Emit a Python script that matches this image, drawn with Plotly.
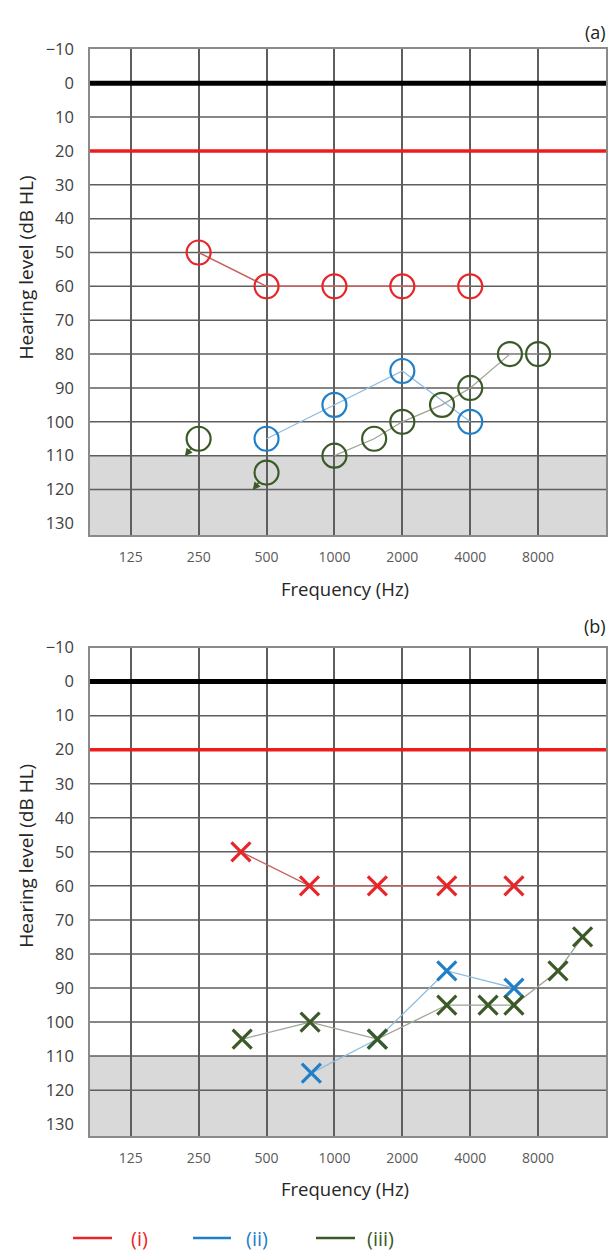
import numpy as np
import plotly.graph_objects as go

# ---------------- data ----------------
FREQ_TICKS = [125, 250, 500, 1000, 2000, 4000, 8000]
DB_TICKS = list(range(-10, 131, 10))
DB_TICKTEXT = ["\u221210"] + [str(v) for v in range(0, 131, 10)]
DB_GRID = list(range(10, 121, 10))

# Panel (a) – open circles
A_I_FREQ = [250, 500, 1000, 2000, 4000]
A_I_DB = [50, 60, 60, 60, 60]
A_II_FREQ = [500, 1000, 2000, 4000]
A_II_DB = [105, 95, 85, 100]
A_III_FREQ = [1000, 1500, 2000, 3000, 4000, 6000, 8000]
A_III_DB = [110, 105, 100, 95, 90, 80, 80]
A_III_NR_FREQ = [250, 500]          # no response (with arrows)
A_III_NR_DB = [105, 115]

# Panel (b) – crosses
B_I_FREQ = [385, 775, 1550, 3150, 6250]
B_I_DB = [50, 60, 60, 60, 60]
B_II_FREQ = [790, 1550, 3150, 6250]
B_II_DB = [115, 105, 85, 90]
B_III_FREQ = [390, 780, 1550, 3150, 4800, 6250, 9800, 12600]
B_III_DB = [105, 100, 105, 95, 95, 95, 85, 75]

SERIES_NAMES = ["(i)", "(ii)", "(iii)"]

# ---------------- style ----------------
W, H = 611, 1251
L_M, R_M = 90, 5
RED = "#e8262a"
BLUE = "#1f7fc8"
GREEN = "#3b5a27"
RED_L = "#c86060"
BLUE_L = "#8cbde2"
GREEN_L = "#9ea596"
GRID = "#5e5e5e"
FONT = "Open Sans"


def py(px):
    return 1 - px / H


def pxx(px):
    return (px - L_M) / (W - L_M - R_M)


x_range = [np.log10(125) - 0.6 * np.log10(2), np.log10(16000)]
y_range = [133.5, -10]

fig = go.Figure()

# ---- panel (a) traces ----
fig.add_trace(go.Scatter(
    x=A_I_FREQ, y=A_I_DB, mode="lines+markers", xaxis="x", yaxis="y",
    line=dict(color=RED_L, width=1.5),
    marker=dict(symbol="circle-open", size=24, color=RED, line=dict(width=2.2)),
    name=SERIES_NAMES[0], showlegend=False))
fig.add_trace(go.Scatter(
    x=A_II_FREQ, y=A_II_DB, mode="lines+markers", xaxis="x", yaxis="y",
    line=dict(color=BLUE_L, width=1.3),
    marker=dict(symbol="circle-open", size=24, color=BLUE, line=dict(width=2.2)),
    name=SERIES_NAMES[1], showlegend=False))
fig.add_trace(go.Scatter(
    x=A_III_FREQ, y=A_III_DB, mode="lines+markers", xaxis="x", yaxis="y",
    line=dict(color=GREEN_L, width=1.3),
    marker=dict(symbol="circle-open", size=24, color=GREEN, line=dict(width=2.2)),
    name=SERIES_NAMES[2], showlegend=False))
fig.add_trace(go.Scatter(
    x=A_III_NR_FREQ, y=A_III_NR_DB, mode="markers", xaxis="x", yaxis="y",
    marker=dict(symbol="circle-open", size=24, color=GREEN, line=dict(width=2.2)),
    name=SERIES_NAMES[2] + " NR", showlegend=False))

# ---- panel (b) traces ----
for fx, dbs, c, cl, nm in [
    (B_I_FREQ, B_I_DB, RED, RED_L, SERIES_NAMES[0]),
    (B_II_FREQ, B_II_DB, BLUE, BLUE_L, SERIES_NAMES[1]),
    (B_III_FREQ, B_III_DB, GREEN, GREEN_L, SERIES_NAMES[2]),
]:
    fig.add_trace(go.Scatter(
        x=fx, y=dbs, mode="lines+markers", xaxis="x2", yaxis="y2",
        line=dict(color=cl, width=1.3),
        marker=dict(symbol="x-thin", size=19, color=c, line=dict(width=3.2, color=c)),
        name=nm, showlegend=False))

# ---- axes ----
xcommon = dict(
    type="log", range=x_range, tickvals=FREQ_TICKS,
    ticktext=[str(f) for f in FREQ_TICKS],
    showgrid=True, gridcolor=GRID, gridwidth=1.5,
    showline=True, mirror=True, linecolor="#8a8a8a", linewidth=1.5,
    zeroline=False, ticks="", ticklabelstandoff=8,
    tickfont=dict(family=FONT, size=14, color="#595959"),
    domain=[0, 1])
ycommon = dict(
    range=y_range, tickvals=DB_TICKS, ticktext=DB_TICKTEXT,
    showgrid=False, zeroline=False,
    showline=True, mirror=True, linecolor="#8a8a8a", linewidth=1.5,
    ticks="", ticklabelstandoff=11,
    tickfont=dict(family=FONT, size=16.5, color="#404040"))

fig.update_layout(
    xaxis=dict(xcommon, anchor="y"),
    xaxis2=dict(xcommon, anchor="y2"),
    yaxis=dict(ycommon, anchor="x", domain=[py(528.3), py(37.7)]),
    yaxis2=dict(ycommon, anchor="x2", domain=[py(1135), py(641.7)]),
)

# ---- shapes ----
shapes = []
for xr, yr in [("x domain", "y"), ("x2 domain", "y2")]:
    shapes.append(dict(type="rect", xref=xr, yref=yr, x0=0, x1=1, y0=110, y1=y_range[0],
                       fillcolor="#d9d9d9", line=dict(width=0), layer="below"))
    for g in DB_GRID:
        shapes.append(dict(type="line", xref=xr, yref=yr, x0=0, x1=1, y0=g, y1=g,
                           line=dict(color=GRID, width=1.5), layer="below"))
    shapes.append(dict(type="line", xref=xr, yref=yr, x0=0, x1=1, y0=0, y1=0,
                       line=dict(color="#000000", width=5), layer="above"))
    shapes.append(dict(type="line", xref=xr, yref=yr, x0=0, x1=1, y0=20, y1=20,
                       line=dict(color="#ee1c1c", width=3.5), layer="above"))

# legend line samples
LEG_Y = 1238
for (x0, x1), c in zip([(73, 112), (193, 231), (316, 355)], [RED, BLUE, GREEN]):
    shapes.append(dict(type="line", xref="paper", yref="paper",
                       x0=pxx(x0), x1=pxx(x1), y0=py(LEG_Y), y1=py(LEG_Y),
                       line=dict(color=c, width=2.5), layer="above"))
fig.update_layout(shapes=shapes)

# ---- annotations ----
ann = []
ann.append(dict(text="(a)", xref="paper", yref="paper", x=1, xshift=2, y=py(20), xanchor="right",
                yanchor="middle", showarrow=False, font=dict(family=FONT, size=18, color="#222222")))
ann.append(dict(text="(b)", xref="paper", yref="paper", x=1, xshift=2, y=py(620), xanchor="right",
                yanchor="middle", showarrow=False, font=dict(family=FONT, size=18, color="#222222")))
for yc in [258, 852]:
    ann.append(dict(text="Hearing level (dB HL)", xref="paper", yref="paper", x=pxx(26), y=py(yc),
                    textangle=-90, xanchor="center", yanchor="middle", showarrow=False,
                    font=dict(family=FONT, size=19, color="#262626")))
for yc in [581.7, 1188]:
    ann.append(dict(text="Frequency (Hz)", xref="paper", yref="paper", x=pxx(345), y=py(yc),
                    xanchor="center", yanchor="middle", showarrow=False,
                    font=dict(family=FONT, size=18.5, color="#262626")))
# no-response arrows
for f, d in zip(A_III_NR_FREQ, A_III_NR_DB):
    ann.append(dict(text="", xref="x", yref="y", x=np.log10(f), y=d, ax=-15, ay=19,
                    showarrow=True, arrowside="start", startarrowhead=2, startarrowsize=1.2,
                    arrowwidth=1.3, arrowcolor=GREEN, standoff=12))
# legend text
for xc, nm, c in zip([139, 257, 380], SERIES_NAMES, [RED, BLUE, GREEN]):
    ann.append(dict(text=nm, xref="paper", yref="paper", x=pxx(xc), y=py(LEG_Y),
                    xanchor="center", yanchor="middle", showarrow=False,
                    font=dict(family=FONT, size=20, color=c)))
fig.update_layout(annotations=ann)

fig.update_layout(
    width=W, height=H, margin=dict(l=L_M, r=R_M, t=0, b=0),
    paper_bgcolor="white", plot_bgcolor="white", showlegend=False,
    font=dict(family=FONT))

fig.write_html("out.html")
